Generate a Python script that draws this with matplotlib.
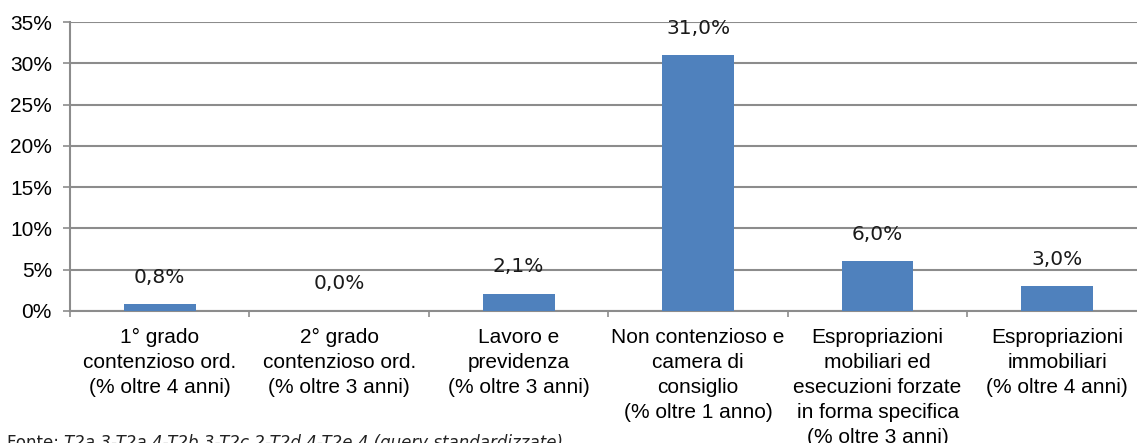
import matplotlib.pyplot as plt
import numpy as np
from matplotlib.ticker import FixedLocator, PercentFormatter

categories = [
    "1° grado\ncontenzioso ord.\n(% oltre 4 anni)",
    "2° grado\ncontenzioso ord.\n(% oltre 3 anni)",
    "Lavoro e\nprevidenza\n(% oltre 3 anni)",
    "Non contenzioso e\ncamera di\nconsiglio\n(% oltre 1 anno)",
    "Espropriazioni\nmobiliari ed\nesecuzioni forzate\nin forma specifica\n(% oltre 3 anni)",
    "Espropriazioni\nimmobiliari\n(% oltre 4 anni)",
]
values = [0.8, 0.0, 2.1, 31.0, 6.0, 3.0]
value_labels = ["0,8%", "0,0%", "2,1%", "31,0%", "6,0%", "3,0%"]
y_ticks = [0, 5, 10, 15, 20, 25, 30, 35]

bar_color = "#4F81BD"
grid_color = "#8C8C8C"

fig = plt.figure(figsize=(11.37, 4.43), dpi=100)
ax = fig.add_axes([0.0616, 0.298, 0.947, 0.652])

x = np.arange(len(categories))
ax.bar(x, values, width=0.40, color=bar_color, zorder=3)

for xi, v, lab in zip(x, values, value_labels):
    ax.annotate(lab, (xi, v), xytext=(0, 19.5), textcoords="offset points",
                ha="center", va="center", fontsize=14.5, family="DejaVu Sans",
                color="#1a1a1a")

ax.set_xlim(-0.5, len(categories) - 0.5)
ax.set_ylim(0, 35)
ax.set_yticks(y_ticks)
ax.yaxis.set_major_formatter(PercentFormatter(decimals=0))
ax.yaxis.grid(True, color=grid_color, linewidth=1.5, zorder=0)

# category boundaries get tick marks, centres get labels
ax.xaxis.set_major_locator(FixedLocator(np.arange(-0.5, len(categories), 1.0)))
ax.xaxis.set_major_formatter(plt.NullFormatter())
ax.xaxis.set_minor_locator(FixedLocator(x))
ax.set_xticklabels(categories, minor=True, fontsize=15, family="Liberation Sans",
                   linespacing=1.40, va="top")
ax.tick_params(axis="x", which="major", length=4, color=grid_color, width=1.2)
ax.tick_params(axis="x", which="minor", length=0, pad=12)
ax.tick_params(axis="y", length=5, color=grid_color, width=1.2, pad=8,
               labelsize=15)
for t in ax.get_yticklabels():
    t.set_family("Liberation Sans")

for s in ["top", "right"]:
    ax.spines[s].set_visible(False)
ax.spines["left"].set_color(grid_color)
ax.spines["left"].set_linewidth(1.5)
ax.spines["bottom"].set_color(grid_color)
ax.spines["bottom"].set_linewidth(1.5)

src = fig.text(0.006, -0.011, "Fonte: ", fontsize=12, family="DejaVu Sans",
               ha="left", va="baseline", color="#222222")
ax.annotate("T2a 3-T2a 4-T2b 3-T2c 2-T2d 4-T2e 4 (query standardizzate)",
            xy=(1, 0), xycoords=src, ha="left", va="bottom",
            fontsize=12, family="DejaVu Sans", style="italic", color="#222222",
            annotation_clip=False)

fig.savefig("out.png", dpi=100)
